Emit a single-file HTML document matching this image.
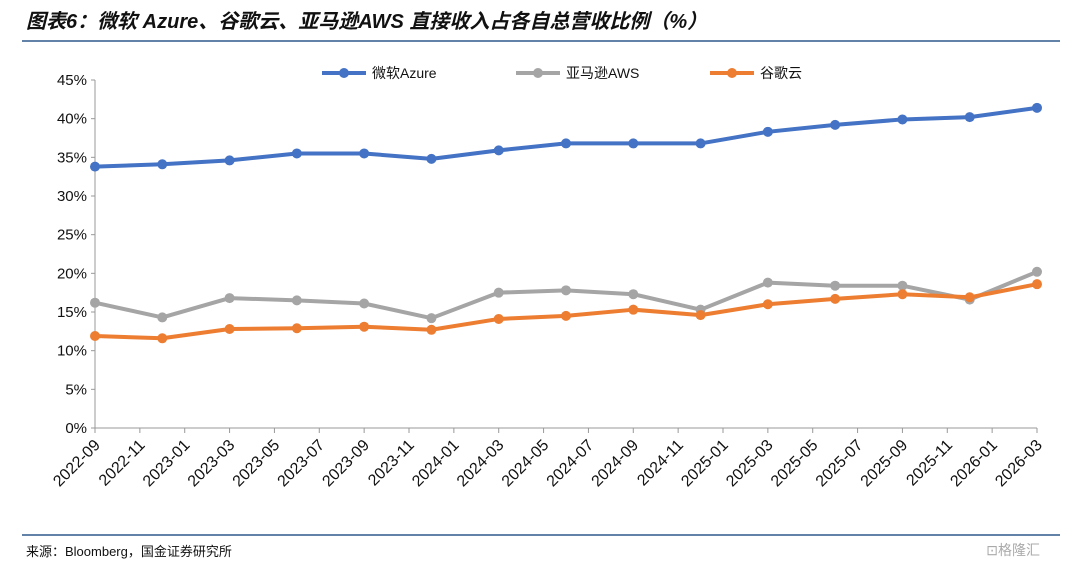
<!DOCTYPE html>
<html><head><meta charset="utf-8"><style>
body{margin:0;background:#fff;width:1080px;height:564px;overflow:hidden;font-family:"Liberation Sans","Noto Sans CJK SC",sans-serif}
</style></head><body>
<svg id="c" width="1080" height="564" xmlns="http://www.w3.org/2000/svg">
<text x="26" y="28" font-size="20" font-weight="bold" font-style="italic" fill="#111" font-family="'Liberation Sans','Noto Sans CJK SC',sans-serif">图表6：微软 Azure、谷歌云、亚马逊AWS 直接收入占各自总营收比例（%）</text>
<line x1="22" y1="41" x2="1060" y2="41" stroke="#2e5a8a" stroke-width="1.5"/>
<line x1="22" y1="535" x2="1060" y2="535" stroke="#2e5a8a" stroke-width="1.5"/>
<text x="26" y="556" font-size="13" fill="#111">来源：Bloomberg，国金证券研究所</text>
<text x="1040" y="555" font-size="14" fill="#aaa" text-anchor="end">⊡格隆汇</text>
<g id="g"></g>
</svg>
<script>
const xLabels=["2022-09","2022-11","2023-01","2023-03","2023-05","2023-07","2023-09","2023-11","2024-01","2024-03","2024-05","2024-07","2024-09","2024-11","2025-01","2025-03","2025-05","2025-07","2025-09","2025-11","2026-01","2026-03"];
const yTicks=[0,5,10,15,20,25,30,35,40,45];
const azure=[33.8,34.1,34.6,35.5,35.5,34.8,35.9,36.8,36.8,36.8,38.3,39.2,39.9,40.2,41.4];
const aws=[16.2,14.3,16.8,16.5,16.1,14.2,17.5,17.8,17.3,15.3,18.8,18.4,18.4,16.6,20.2];
const gcloud=[11.9,11.6,12.8,12.9,13.1,12.7,14.1,14.5,15.3,14.6,16.0,16.7,17.3,16.9,18.6];
const NS="http://www.w3.org/2000/svg",g=document.getElementById('g');
const X0=95,X1=1037,Y0=428,Y1=80;
const yS=v=>Y0-(v/45)*(Y0-Y1);
const xL=i=>X0+i*(X1-X0)/(xLabels.length-1);
const xP=(i,n)=>X0+i*(X1-X0)/(n-1);
function mk(t,a){const e=document.createElementNS(NS,t);for(const k in a)e.setAttribute(k,a[k]);g.appendChild(e);return e;}
let e=mk('line',{x1:X0,y1:Y0,x2:X0,y2:Y1,stroke:'#999'});

e=mk('line',{x1:X0,y1:Y0,x2:X1,y2:Y0,stroke:'#999'});

yTicks.forEach(v=>{const t=mk('text',{x:X0-8,y:yS(v)+5,'font-size':15,'text-anchor':'end',fill:'#111'});t.textContent=v+'%';

const l=mk('line',{x1:X0-4,y1:yS(v),x2:X0,y2:yS(v),stroke:'#999'});});
xLabels.forEach((s,i)=>{const x=xL(i);const l=mk('line',{x1:x,y1:Y0,x2:x,y2:Y0+5,stroke:'#999'});

const t=mk('text',{x:x+6,y:Y0+18,'font-size':16,'text-anchor':'end',fill:'#111',transform:`rotate(-45 ${x+6} ${Y0+18})`});t.textContent=s;
});
const series=[[azure,'#4472c4','azure'],[aws,'#a5a5a5','aws'],[gcloud,'#ed7d31','google-cloud']];
series.forEach(([d,c,n])=>{const p=mk('polyline',{points:d.map((v,i)=>xP(i,d.length)+','+yS(v)).join(' '),fill:'none',stroke:c,'stroke-width':4,'stroke-linejoin':'round'});

d.forEach((v,i)=>{const m=mk('circle',{cx:xP(i,d.length),cy:yS(v),r:5,fill:c});});});
const leg=[[322,'#4472c4','微软Azure'],[516,'#a5a5a5','亚马逊AWS'],[710,'#ed7d31','谷歌云']];
leg.forEach(([x,c,s])=>{const l=mk('line',{x1:x,y1:73,x2:x+44,y2:73,stroke:c,'stroke-width':4});
const m=mk('circle',{cx:x+22,cy:73,r:5,fill:c});
const t=mk('text',{x:x+50,y:78,'font-size':14,fill:'#111'});t.textContent=s;});
</script>
</body></html>
